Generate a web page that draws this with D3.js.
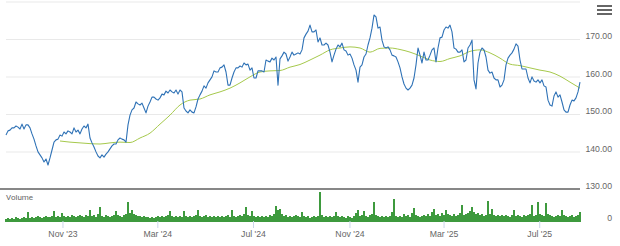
<!DOCTYPE html>
<head>
<meta charset="utf-8">
<title>Price and volume</title>
<style>
body {
  margin: 0;
  font-family: Roboto, Arial, sans-serif;
  background: #fff;
}
.grid line {
  stroke: #e9e9e9;
}
.axis text {
  fill: #666;
  font-size: 8.7px;
}
.xaxis line {
  stroke: #ccd6eb;
}
</style>
<script src="https://d3js.org/d3.v7.min.js"></script>
</head>
<body>
<script>
// data: one closing price every ~2.5 days, Aug 2023 - Aug 2025
var startDate = "2023-08-21",
    endDate = "2025-08-22";

var prices = [
  144.4,145.5,145.7,146.3,146.3,146.8,146.5,146.0,147.3,146.0,147.1,147.1,146.3,144.7,143.3,141.5,139.9,139.1,138.3,137.2,
  138.0,136.4,138.3,140.4,142.5,143.1,143.3,144.4,144.1,145.2,144.7,145.5,145.2,144.7,146.3,145.2,145.7,144.7,146.0,146.8,
  146.3,147.3,143.6,142.3,141.2,
  139.9,138.8,138.3,139.1,138.5,139.3,139.9,140.7,141.5,142.0,142.0,143.1,143.6,143.3,143.1,142.5,147.1,149.7,151.1,151.6,
  153.2,152.7,152.4,152.9,151.6,150.3,152.1,153.2,154.5,154.5,154.0,153.7,154.3,155.3,155.1,156.1,155.6,156.4,155.9,155.6,
  156.4,155.3,156.4,155.9,151.6,150.8,150.3,151.1,150.5,150.3,151.9,154.0,155.1,156.1,157.5,156.9,158.3,159.1,159.9,161.5,
  161.2,161.2,162.3,162.5,163.1,161.2,157.7,157.7,159.6,161.2,162.3,162.3,162.8,162.5,163.6,163.1,163.3,161.7,162.3,159.6,
  159.6,161.5,161.5,161.5,161.2,164.4,164.1,163.9,164.9,164.4,165.2,157.7,164.7,165.5,166.5,166.0,164.1,165.2,166.5,165.7,
  166.0,166.3,166.0,167.1,170.3,171.3,172.1,173.7,171.9,171.9,172.4,169.2,170.3,168.4,168.4,168.9,168.4,166.5,163.9,165.7,
  167.3,168.4,167.9,168.9,167.1,166.8,165.7,166.0,164.9,163.1,161.7,158.5,162.5,163.1,165.2,166.0,168.4,170.3,172.9,176.4,
  175.9,172.9,173.2,169.7,167.9,167.6,167.9,167.1,165.7,165.5,165.2,163.9,162.3,159.9,158.0,156.9,156.4,156.9,157.7,159.6,
  163.1,167.6,165.7,163.6,166.5,164.4,164.4,165.7,167.1,167.6,163.9,167.6,170.3,170.5,172.4,173.2,172.9,173.7,171.9,167.6,
  167.3,166.5,166.5,167.1,163.9,164.4,167.6,168.4,169.7,159.1,156.7,163.6,166.5,167.6,167.1,165.2,161.7,160.9,161.2,159.6,
  159.1,159.1,157.2,157.7,159.1,163.1,164.9,165.7,166.3,167.3,168.7,168.1,164.4,162.0,162.0,162.0,159.6,158.3,159.9,158.8,
  158.5,159.1,158.3,159.1,157.5,157.2,153.7,152.4,152.1,154.8,155.9,154.5,155.1,153.2,151.1,150.5,150.5,152.4,153.7,153.5,
  154.3,155.9,158.5
];

// moving average, read every fifth price point starting early Nov 2023
var maStart = 27,
    maStep = 5;
var movingAvg = [
  142.8,142.5,142.3,142.1,142.0,142.3,142.5,142.4,143.6,144.9,147.3,149.7,152.4,153.7,154.0,155.1,155.9,156.9,158.3,159.9,
  161.2,161.5,161.6,162.5,163.2,164.4,165.7,167.1,167.6,167.9,167.6,166.5,167.5,167.6,167.2,166.5,165.5,164.4,164.0,164.8,
  165.5,166.7,167.1,166.3,164.9,163.3,162.9,162.3,161.7,161.2,160.1,158.5,156.9
];

// volume (millions), same dates as prices
var volumes = [
  3,4,3,4,3,5,4,3,4,5,
  4,10,4,5,4,5,6,5,4,5,6,5,5,6,11,5,6,5,
  9,6,5,6,5,7,6,5,6,7,6,5,7,6,12,6,7,5,8,15,
  6,5,7,6,5,6,7,11,7,6,5,7,8,20,9,12,8,7,6,6,
  5,6,5,5,4,5,4,5,6,5,6,5,6,7,11,6,5,6,5,6,
  5,11,6,5,6,5,6,7,12,6,5,6,7,5,6,5,6,5,6,5,
  6,5,6,7,5,12,6,5,6,7,6,8,15,7,6,11,6,5,6,5,
  6,5,6,5,7,6,8,16,12,13,8,6,7,5,6,5,6,7,6,5,
  10,6,5,6,4,5,6,5,6,30,7,5,6,5,6,5,6,10,6,5,
  6,5,4,6,5,4,6,9,12,6,7,11,6,5,7,8,20,7,6,5,
  6,5,6,5,6,10,23,6,5,6,5,8,6,7,5,9,14,7,6,5,
  6,7,6,8,6,10,13,7,8,6,9,7,12,8,7,6,8,6,7,9,
  17,7,8,9,11,15,10,8,9,7,8,6,7,21,8,13,7,6,7,6,
  7,6,7,6,5,7,12,6,7,6,5,7,6,7,8,17,6,7,20,8,
  7,6,19,8,7,6,5,6,7,6,12,7,6,5,6,7,5,6,7,10
];

var priceTicks = [140, 150, 160, 170, 180];
var priceLabels = [130, 140, 150, 160, 170];
var monthTicks = ["2023-11-01", "2024-03-01", "2024-07-01", "2024-11-01", "2025-03-01", "2025-07-01"];

var width = 620,
    height = 246,
    left = 6,
    right = 580;

var parse = d3.timeParse("%Y-%m-%d");
var t0 = parse(startDate), t1 = parse(endDate);
var step = (t1 - t0) / (prices.length - 1);
var dates = prices.map(function(d, i) { return new Date(t0.getTime() + i * step); });

var data = prices.map(function(p, i) { return { date: dates[i], price: p, vol: volumes[i] }; });
var maData = movingAvg.map(function(v, k) { return { date: dates[maStart + k * maStep], value: v }; });

var x = d3.scaleTime().domain([t0, t1]).range([left, right]);
var y = d3.scaleLinear().domain([130, 180]).range([189, 1.5]);
var yVol = d3.scaleLinear().domain([0, 30]).range([222, 192]);

var svg = d3.select("body").append("svg")
    .attr("width", width)
    .attr("height", height);

// horizontal grid
svg.append("g")
    .attr("class", "grid")
    .attr("transform", "translate(" + right + ",0)")
    .call(d3.axisLeft(y).tickValues(priceTicks).tickSize(right - left).tickFormat(""))
    .call(function(g) { g.select(".domain").remove(); });

// price pane bottom line
svg.append("line")
    .attr("x1", 0).attr("x2", right)
    .attr("y1", y(130)).attr("y2", y(130))
    .attr("stroke", "#5f5f5f")
    .attr("stroke-width", 1.5);

// right axis labels
svg.append("g")
    .attr("class", "axis")
    .attr("transform", "translate(612,-3)")
    .call(d3.axisLeft(y).tickValues(priceLabels).tickSize(0).tickPadding(0).tickFormat(d3.format(".2f")))
    .call(function(g) { g.select(".domain").remove(); });

svg.append("g")
    .attr("class", "axis")
    .attr("transform", "translate(612,-4)")
    .call(d3.axisLeft(yVol).tickValues([0]).tickSize(0).tickPadding(0))
    .call(function(g) { g.select(".domain").remove(); });

// volume bars
svg.selectAll(".vol")
    .data(data)
    .enter().append("rect")
    .attr("class", "vol")
    .attr("x", function(d) { return x(d.date) - 0.9; })
    .attr("width", 1.8)
    .attr("y", function(d) { return yVol(d.vol); })
    .attr("height", function(d) { return yVol(0) - yVol(d.vol); })
    .attr("fill", "#2a8f2a");

svg.append("text")
    .attr("x", 6)
    .attr("y", 200)
    .attr("fill", "#666")
    .style("font-size", "8px")
    .text("Volume");

// x axis
svg.append("g")
    .attr("class", "axis xaxis")
    .attr("transform", "translate(0,221)")
    .call(d3.axisBottom(x)
      .tickValues(monthTicks.map(parse))
      .tickSize(7)
      .tickPadding(3)
      .tickFormat(d3.timeFormat("%b '%y")))
    .call(function(g) { g.select(".domain").remove(); });

// moving average
svg.append("path")
    .datum(maData)
    .attr("fill", "none")
    .attr("stroke", "#a6c94c")
    .attr("stroke-width", 1)
    .attr("d", d3.line().curve(d3.curveMonotoneX)
      .x(function(d) { return x(d.date); })
      .y(function(d) { return y(d.value); }));

// price line
svg.append("path")
    .datum(data)
    .attr("fill", "none")
    .attr("stroke", "#2f72b6")
    .attr("stroke-width", 1.1)
    .attr("stroke-linejoin", "round")
    .attr("d", d3.line()
      .x(function(d) { return x(d.date); })
      .y(function(d) { return y(d.price); }));

// menu icon
svg.selectAll(".menu")
    .data([6, 10, 14])
    .enter().append("rect")
    .attr("x", 597)
    .attr("y", function(d) { return d - 1; })
    .attr("width", 15)
    .attr("height", 2)
    .attr("fill", "#666");
</script>
</body>
